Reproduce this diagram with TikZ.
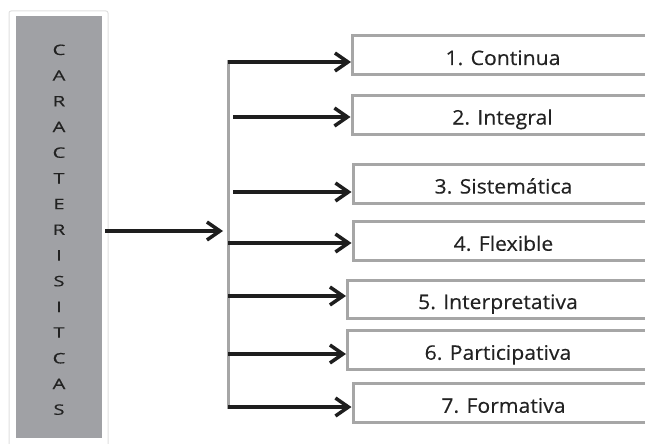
\documentclass[tikz,border=0pt]{standalone}
\usepackage{fontspec}
\setmainfont{Open Sans}
\newfontfamily\boxfont[FakeStretch=1.06,FakeBold=0.3]{Open Sans}
\newfontfamily\colfont[FakeStretch=1.4,FakeBold=0.3]{Open Sans}
\usepackage{tikz}
\usetikzlibrary{positioning}
\usetikzlibrary{arrows.meta}
\definecolor{panelgray}{HTML}{A0A1A5}
\definecolor{framegray}{HTML}{A6A6A6}
\definecolor{inkblack}{HTML}{1E1E1E}
\definecolor{textgray}{HTML}{222222}

\tikzset{
  itembox/.style={draw=framegray, line width=3pt, fill=white, minimum width=301pt,
    minimum height=38.5pt, inner sep=0pt, text height=29pt, text depth=9.5pt,
    text=textgray, font=\fontsize{20}{23}\boxfont},
  colletter/.style={inner sep=0pt, text height=10pt, text depth=0pt, text=textgray,
    font=\fontsize{14.5}{17}\colfont},
  branch/.style={draw=inkblack, line width=3.5pt,
    -{Straight Barb[length=13pt,width=18pt]}},
}

\begin{document}
\begin{tikzpicture}[x=1pt,y=-1pt]
  \useasboundingbox (0,0) rectangle (645,444);
  % left column
  \draw[draw=black!12, line width=1pt, rounded corners=2pt, fill=white] (9,11) rectangle (108,452);
  \node[fill=panelgray, minimum width=86pt, minimum height=422pt, inner sep=0pt] (panel) at (59,227) {};
  \foreach \l [count=\i] in {C,A,R,A,C,T,E,R,I,S,I,T,C,A,S}
    \node[colletter] (l\i) at (59,{50+25.7*(\i-1)}) {\l};

  % items
  \node[itembox] (b1) at (503,55.25) {1. Continua};
  \node[itembox] (b2) at (502.5,114.75) {2. Integral};
  \node[itembox] (b3) at (503.5,183.75) {3. Sistemática};
  \node[itembox] (b4) at (503.5,241) {4. Flexible};
  \node[itembox] (b5) at (498,299.25) {5. Interpretativa};
  \node[itembox] (b6) at (498,350) {6. Participativa};
  \node[itembox] (b7) at (503.5,403) {7. Formativa};

  % bar and branches
  \coordinate (bartop) at (228,60);
  \coordinate (barbot) at (228,409);
  \draw[draw=framegray, line width=3pt] (bartop) -- (barbot);
  \coordinate (hub) at (223,231);
  \draw[branch] ([xshift=3pt]panel.east |- hub) -- (hub);

  \coordinate (s1) at (228,62);
  \coordinate (s2) at (233,117);
  \coordinate (s3) at (233,192);
  \coordinate (s4) at (228,243);
  \coordinate (s5) at (228,296);
  \coordinate (s6) at (228,354);
  \coordinate (s7) at (228,407);
  \draw[branch] (s1) -- (s1 -| b1.west);
  \draw[branch] (s2) -- (s2 -| b2.west);
  \draw[branch] (s3) -- (s3 -| b3.west);
  \draw[branch] (s4) -- (s4 -| b4.west);
  \draw[branch] (s5) -- (s5 -| b5.west);
  \draw[branch] (s6) -- (s6 -| b6.west);
  \draw[branch] (s7) -- (s7 -| b7.west);
\end{tikzpicture}
\end{document}
